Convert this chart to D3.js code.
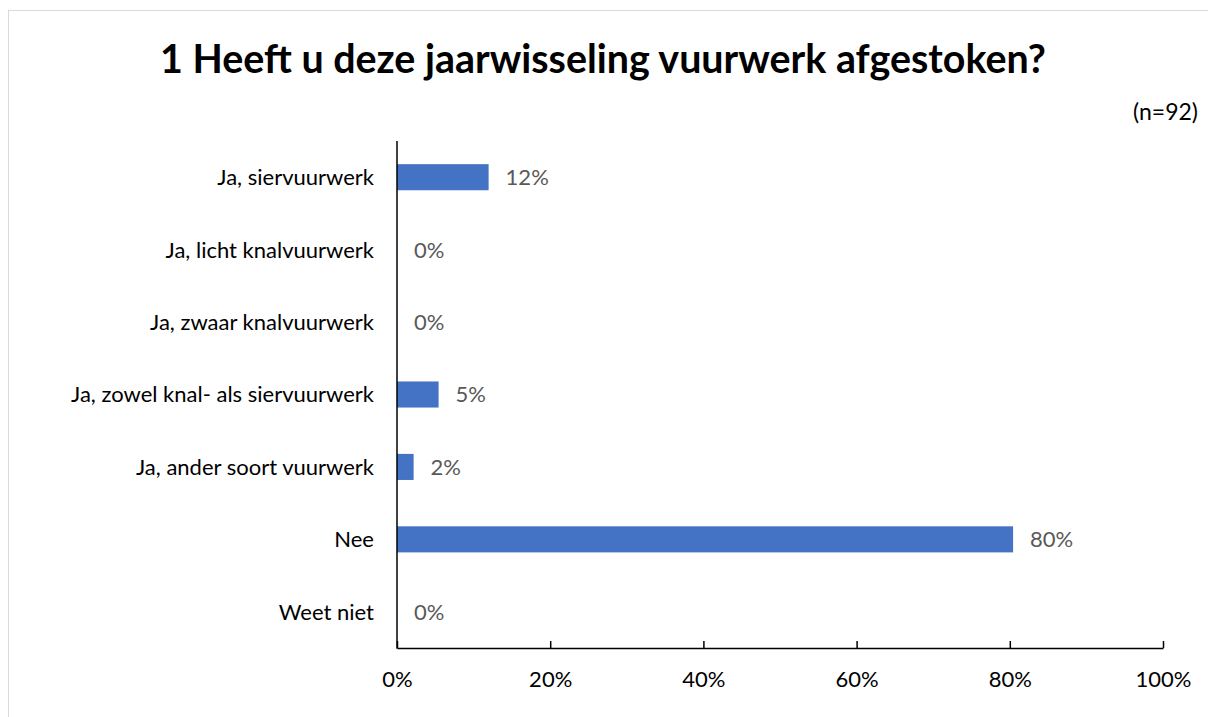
<!DOCTYPE html>
<html><head><meta charset="utf-8">
<script src="https://cdn.jsdelivr.net/npm/d3@7"></script>
<style>body{margin:0;background:#fff;} svg{display:block;}</style>
</head><body><svg id="c" width="1208" height="717"></svg>
<script>
const categories = ["Ja, siervuurwerk","Ja, licht knalvuurwerk","Ja, zwaar knalvuurwerk","Ja, zowel knal- als siervuurwerk","Ja, ander soort vuurwerk","Nee","Weet niet"];
const values = [0.1196, 0, 0, 0.0543, 0.0217, 0.8043, 0];
const valueLabels = ["12%","0%","0%","5%","2%","80%","0%"];
const tickValues = [0, 0.2, 0.4, 0.6, 0.8, 1.0];
const tickLabels = ["0%","20%","40%","60%","80%","100%"];
const title = "1 Heeft u deze jaarwisseling vuurwerk afgestoken?";
const note = "(n=92)";

const svg = d3.select("#c");
const font = "Lato, 'Open Sans', sans-serif";
svg.append("rect").attr("x",8.5).attr("y",10.5).attr("width",1400).attr("height",1000)
  .attr("fill","#fff").attr("stroke","#d9d9d9").attr("stroke-width",1);

const x = d3.scaleLinear().domain([0,1]).range([397,1163]);
const y = d3.scaleBand().domain(categories).range([141,648]).paddingInner(0.64).paddingOuter(0.32);

svg.append("text").attr("x",603).attr("y",72.5).attr("text-anchor","middle")
  .attr("font-family",font).attr("font-weight","bold").attr("font-size",39.4).attr("fill","#000").text(title);
svg.append("text").attr("x",1198).attr("y",120).attr("text-anchor","end")
  .attr("font-family",font).attr("font-size",23).attr("fill","#000").text(note);

svg.selectAll("rect.bar").data(values).enter().append("rect").attr("class","bar")
  .attr("x",x(0)).attr("y",(d,i)=>y(categories[i])).attr("width",d=>x(d)-x(0)).attr("height",y.bandwidth())
  .attr("fill","#4472C4");

svg.selectAll("text.val").data(values).enter().append("text").attr("class","val")
  .attr("x",d=>x(d)+17).attr("y",(d,i)=>y(categories[i])+y.bandwidth()/2).attr("dy","0.36em")
  .attr("font-family",font).attr("font-size",22).attr("fill","#595959").text((d,i)=>valueLabels[i]);

svg.selectAll("text.cat").data(categories).enter().append("text").attr("class","cat")
  .attr("x",374).attr("y",d=>y(d)+y.bandwidth()/2).attr("dy","0.36em").attr("text-anchor","end")
  .attr("font-family",font).attr("font-size",22).attr("fill","#000").text(d=>d);

const xAxis = d3.axisBottom(x).tickValues(tickValues).tickFormat((d,i)=>tickLabels[i]).tickSize(-7).tickSizeOuter(0).tickPadding(23);
const g = svg.append("g").attr("transform","translate(0,648)").call(xAxis);
g.select(".domain").attr("stroke","#000").attr("stroke-width",1.5);
g.selectAll(".tick line").attr("stroke","#000").attr("stroke-width",1.5);
g.selectAll(".tick text").attr("font-family",font).attr("font-size",22).attr("fill","#000");

svg.append("line").attr("x1",x(0)).attr("x2",x(0)).attr("y1",141).attr("y2",648.75).attr("stroke","#000").attr("stroke-width",1.5);
</script></body></html>
